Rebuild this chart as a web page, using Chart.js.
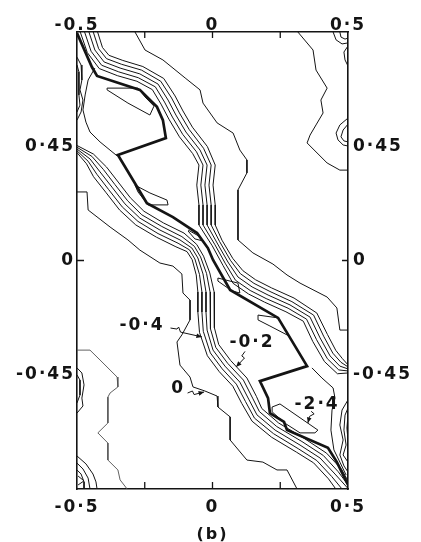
<!DOCTYPE html>
<html>
<head>
<meta charset="utf-8">
<script src="https://cdn.jsdelivr.net/npm/chart.js@4.4.1/dist/chart.umd.min.js"></script>
<style>
  html, body { margin: 0; padding: 0; background: #ffffff; }
  canvas { display: block; }
</style>
</head>
<body>
<canvas id="c" width="421" height="542"></canvas>
<script>
// Energy contour map of the cell, with the minimum-energy path (thick line).

// Axis ticks and labels
const xTickValues = [-0.5, 0, 0.5];
const topTickLabels = ['-0.5', '0', '0·5'];
const bottomTickLabels = ['-0·5', '0', '0·5'];
const yTickValues = [-0.45, 0, 0.45];
const yTickLabels = ['-0·45', '0', '0·45'];
const minorTickX = [-0.25, 0, 0.25];
const minorTickY = [0];

// Minimum-energy path through the valley
const minPath = [[-0.5,0.896],[-0.445,0.762],[-0.426,0.727],[-0.268,0.672],[-0.205,0.605],[-0.183,0.553],[-0.172,0.482],[-0.349,0.416],[-0.242,0.226],[-0.146,0.171],[-0.057,0.108],[-0.017,0.049],[0.002,0.002],[0.065,-0.116],[0.242,-0.226],[0.349,-0.416],[0.175,-0.475],[0.205,-0.542],[0.212,-0.601],[0.264,-0.636],[0.275,-0.668],[0.426,-0.738],[0.459,-0.794],[0.5,-0.884]];

// Dense contour band on the upper/right flank of the valley (inner to outer)
const rightBand = [
  [[-0.488,0.9],[-0.462,0.819],[-0.418,0.756],[-0.351,0.728],[-0.279,0.706],[-0.222,0.673],[-0.190,0.616],[-0.161,0.557],[-0.122,0.487],[-0.073,0.421],[-0.050,0.376],[-0.058,0.297],[-0.050,0.219],[-0.050,0.140],[-0.001,0.058],[0.039,-0.020],[0.076,-0.090],[0.133,-0.132],[0.192,-0.164],[0.271,-0.202],[0.335,-0.239],[0.370,-0.319],[0.413,-0.398],[0.461,-0.446],[0.5,-0.443]],
  [[-0.472,0.9],[-0.448,0.824],[-0.409,0.769],[-0.346,0.743],[-0.274,0.720],[-0.211,0.684],[-0.177,0.624],[-0.148,0.565],[-0.110,0.497],[-0.059,0.428],[-0.035,0.376],[-0.043,0.297],[-0.035,0.219],[-0.035,0.140],[0.008,0.064],[0.048,-0.013],[0.085,-0.078],[0.139,-0.118],[0.198,-0.150],[0.279,-0.188],[0.347,-0.231],[0.384,-0.312],[0.424,-0.387],[0.466,-0.431],[0.5,-0.435]],
  [[-0.456,0.9],[-0.434,0.829],[-0.400,0.782],[-0.341,0.758],[-0.268,0.735],[-0.201,0.695],[-0.164,0.632],[-0.135,0.573],[-0.098,0.506],[-0.046,0.435],[-0.020,0.376],[-0.028,0.297],[-0.020,0.219],[-0.020,0.140],[0.017,0.069],[0.057,-0.006],[0.094,-0.065],[0.146,-0.104],[0.205,-0.136],[0.286,-0.175],[0.360,-0.223],[0.397,-0.305],[0.434,-0.376],[0.470,-0.416],[0.5,-0.427]],
  [[-0.440,0.9],[-0.420,0.834],[-0.391,0.795],[-0.336,0.773],[-0.262,0.750],[-0.191,0.706],[-0.151,0.640],[-0.122,0.581],[-0.086,0.516],[-0.033,0.442],[-0.005,0.376],[-0.013,0.297],[-0.005,0.219],[-0.005,0.140],[0.026,0.075],[0.066,0.001],[0.103,-0.052],[0.153,-0.090],[0.212,-0.122],[0.293,-0.162],[0.373,-0.215],[0.410,-0.298],[0.444,-0.365],[0.474,-0.401],[0.5,-0.419]],
  [[-0.424,0.9],[-0.406,0.839],[-0.382,0.808],[-0.331,0.788],[-0.257,0.764],[-0.180,0.717],[-0.138,0.648],[-0.109,0.589],[-0.074,0.525],[-0.019,0.449],[0.010,0.376],[0.002,0.297],[0.010,0.219],[0.010,0.140],[0.035,0.080],[0.075,0.008],[0.112,-0.040],[0.159,-0.076],[0.218,-0.108],[0.301,-0.148],[0.385,-0.207],[0.424,-0.291],[0.455,-0.354],[0.479,-0.386],[0.5,-0.411]]
];

// Dense contour band on the lower/left flank of the valley (inner to outer)
const leftBand = [
  [[-0.5,0.453],[-0.439,0.419],[-0.391,0.368],[-0.348,0.309],[-0.303,0.247],[-0.253,0.194],[-0.181,0.148],[-0.105,0.108],[-0.058,0.063],[-0.033,0.017],[-0.010,-0.049],[0.006,-0.124],[0.006,-0.203],[0.008,-0.265],[0.023,-0.331],[0.067,-0.394],[0.127,-0.463],[0.162,-0.535],[0.182,-0.583],[0.244,-0.640],[0.336,-0.699],[0.421,-0.759],[0.476,-0.822],[0.5,-0.868]],
  [[-0.5,0.446],[-0.445,0.410],[-0.403,0.359],[-0.360,0.299],[-0.313,0.235],[-0.261,0.180],[-0.187,0.134],[-0.113,0.094],[-0.067,0.056],[-0.044,0.014],[-0.022,-0.051],[-0.009,-0.124],[-0.009,-0.203],[-0.006,-0.269],[0.012,-0.342],[0.056,-0.405],[0.114,-0.471],[0.148,-0.542],[0.173,-0.595],[0.237,-0.654],[0.330,-0.713],[0.409,-0.768],[0.464,-0.832],[0.5,-0.884]],
  [[-0.5,0.439],[-0.452,0.400],[-0.415,0.349],[-0.371,0.289],[-0.323,0.223],[-0.268,0.167],[-0.194,0.120],[-0.120,0.081],[-0.076,0.049],[-0.054,0.010],[-0.035,-0.053],[-0.024,-0.124],[-0.024,-0.203],[-0.020,-0.274],[0.002,-0.353],[0.046,-0.416],[0.101,-0.479],[0.135,-0.549],[0.164,-0.608],[0.231,-0.668],[0.323,-0.727],[0.397,-0.778],[0.452,-0.841],[0.5,-0.898]],
  [[-0.5,0.432],[-0.459,0.391],[-0.427,0.340],[-0.383,0.279],[-0.333,0.211],[-0.275,0.154],[-0.201,0.106],[-0.127,0.068],[-0.085,0.042],[-0.065,0.006],[-0.048,-0.055],[-0.039,-0.124],[-0.039,-0.203],[-0.034,-0.279],[-0.008,-0.364],[0.036,-0.427],[0.088,-0.487],[0.122,-0.556],[0.155,-0.621],[0.225,-0.682],[0.316,-0.741],[0.385,-0.788],[0.440,-0.851],[0.478,-0.9]],
  [[-0.5,0.425],[-0.465,0.381],[-0.439,0.330],[-0.394,0.269],[-0.343,0.199],[-0.283,0.140],[-0.207,0.092],[-0.135,0.054],[-0.094,0.035],[-0.075,0.003],[-0.060,-0.057],[-0.054,-0.124],[-0.054,-0.203],[-0.048,-0.283],[-0.019,-0.375],[0.025,-0.438],[0.075,-0.495],[0.108,-0.563],[0.146,-0.633],[0.218,-0.696],[0.310,-0.755],[0.373,-0.797],[0.428,-0.860],[0.455,-0.9]]
];

// Outer (zero-level) contours
const zeroUpper = [[-0.286,0.9],[-0.249,0.829],[-0.183,0.790],[-0.101,0.719],[-0.046,0.672],[-0.035,0.620],[0.017,0.542],[0.076,0.502],[0.101,0.435],[0.127,0.396],[0.127,0.345],[0.094,0.278],[0.094,0.081],[0.149,0.030],[0.223,-0.014],[0.275,-0.057],[0.323,-0.089],[0.423,-0.144],[0.459,-0.187],[0.470,-0.274],[0.5,-0.274]];
const zeroLower = [[-0.5,0.270],[-0.463,0.270],[-0.459,0.199],[-0.378,0.132],[-0.312,0.081],[-0.268,0.041],[-0.194,-0.010],[-0.146,-0.022],[-0.113,-0.053],[-0.109,-0.128],[-0.083,-0.156],[-0.083,-0.234],[-0.113,-0.293],[-0.131,-0.321],[-0.120,-0.412],[-0.083,-0.459],[-0.072,-0.498],[-0.028,-0.514],[0.017,-0.534],[0.020,-0.577],[0.065,-0.616],[0.065,-0.707],[0.127,-0.786],[0.186,-0.794],[0.238,-0.825],[0.275,-0.825],[0.312,-0.9]];
const zeroCorner = [[-0.5,-0.353],[-0.452,-0.353],[-0.415,-0.392],[-0.352,-0.459],[-0.349,-0.498],[-0.378,-0.522],[-0.386,-0.538],[-0.386,-0.640],[-0.423,-0.679],[-0.386,-0.719],[-0.386,-0.786],[-0.349,-0.825],[-0.341,-0.864],[-0.315,-0.9]];
const farRight = [[0.315,0.9],[0.371,0.829],[0.382,0.750],[0.423,0.679],[0.400,0.632],[0.408,0.581],[0.382,0.534],[0.360,0.494],[0.349,0.463],[0.423,0.384],[0.470,0.356],[0.5,0.356]];
const leftPocketEdge = [[-0.434,0.758],[-0.459,0.711],[-0.470,0.652],[-0.478,0.593],[-0.467,0.545],[-0.452,0.506],[-0.415,0.467],[-0.352,0.412]];
const rightInner = [[0.367,-0.423],[0.404,-0.463],[0.445,-0.502],[0.452,-0.542],[0.441,-0.589],[0.437,-0.668],[0.448,-0.746],[0.470,-0.794],[0.493,-0.845]];

// Short contours that meet the cell edges
const edgeContours = [
  [[-0.5,0.801],[-0.485,0.770],[-0.482,0.711],[-0.489,0.672],[-0.478,0.632],[-0.485,0.585],[-0.5,0.553]],
  [[-0.5,0.770],[-0.493,0.743],[-0.493,0.652],[-0.489,0.612],[-0.5,0.585]],
  [[0.445,0.9],[0.456,0.869],[0.478,0.853],[0.5,0.857]],
  [[0.470,0.9],[0.474,0.880],[0.489,0.872],[0.5,0.876]],
  [[0.5,0.845],[0.485,0.821],[0.489,0.790],[0.5,0.766]],
  [[0.5,0.561],[0.470,0.534],[0.456,0.502],[0.463,0.475],[0.482,0.455],[0.5,0.451]],
  [[0.5,0.537],[0.482,0.514],[0.474,0.487],[0.485,0.471],[0.5,0.467]],
  [[0.5,-0.549],[0.478,-0.589],[0.470,-0.648],[0.482,-0.707],[0.470,-0.766],[0.485,-0.809],[0.5,-0.833]],
  [[0.5,-0.581],[0.489,-0.609],[0.485,-0.668],[0.493,-0.727],[0.482,-0.766],[0.5,-0.794]],
  [[0.5,-0.609],[0.496,-0.660],[0.5,-0.707]],
  [[-0.5,-0.423],[-0.482,-0.443],[-0.474,-0.490],[-0.482,-0.542],[-0.478,-0.573],[-0.5,-0.601]],
  [[-0.5,-0.451],[-0.489,-0.471],[-0.489,-0.530],[-0.5,-0.561]],
  [[-0.5,-0.770],[-0.467,-0.801],[-0.441,-0.841],[-0.430,-0.872],[-0.426,-0.9]],
  [[-0.5,-0.798],[-0.478,-0.821],[-0.459,-0.857],[-0.452,-0.9]],
  [[-0.5,-0.825],[-0.485,-0.841],[-0.474,-0.872],[-0.474,-0.9]],
  [[-0.496,-0.849],[-0.474,-0.868],[-0.496,-0.884]]
];

// Closed low-energy pockets inside the valley
const pockets = [
  [[-0.389,0.679],[-0.275,0.679],[-0.249,0.644],[-0.216,0.608],[-0.231,0.573],[-0.312,0.620],[-0.389,0.672],[-0.389,0.679]],
  [[-0.286,0.297],[-0.231,0.266],[-0.168,0.238],[-0.164,0.219],[-0.238,0.219],[-0.275,0.270],[-0.286,0.297]],
  [[0.220,-0.577],[0.249,-0.565],[0.389,-0.668],[0.378,-0.679],[0.323,-0.679],[0.266,-0.640],[0.220,-0.596],[0.220,-0.577]],
  [[0.020,-0.069],[0.094,-0.089],[0.101,-0.128],[0.072,-0.120],[0.020,-0.081],[0.020,-0.069]],
  [[0.168,-0.215],[0.242,-0.226],[0.282,-0.297],[0.212,-0.258],[0.168,-0.234],[0.168,-0.215]],
  [[-0.090,0.120],[-0.050,0.096],[-0.035,0.077],[-0.065,0.085],[-0.090,0.116]]
];

// Contour level labels with their pointer arrows
const levelLabels = ['-0·4', '-0·2', '0', '-2·4'];
const levelLabelX = [-0.260, 0.146, -0.127, 0.386];
const levelLabelY = [-0.258, -0.325, -0.506, -0.567];
const levelArrows = [
  [[-0.155,-0.266],[-0.131,-0.270],[-0.125,-0.262],[-0.118,-0.282],[-0.039,-0.301]],
  [[0.120,-0.358],[0.108,-0.376],[0.118,-0.384],[0.087,-0.419]],
  [[-0.092,-0.522],[-0.074,-0.514],[-0.068,-0.528],[-0.031,-0.518]],
  [[0.364,-0.594],[0.375,-0.604],[0.358,-0.614],[0.352,-0.640]]
];

const ink = '#141414';
const labelFont = { family: 'DejaVu Sans', weight: 'bold', size: 17 };
const topLabelFont = { family: 'DejaVu Sans', weight: 'bold', size: 17, lineHeight: 0.8 };

function contour(points, width, color) {
  return {
    data: points.map(([x, y]) => ({ x, y })),
    showLine: true,
    pointRadius: 0,
    pointHoverRadius: 0,
    borderColor: color || ink,
    borderWidth: width,
    tension: 0,
    fill: false
  };
}

const datasets = [];
rightBand.forEach(l => datasets.push(contour(l, 1)));
leftBand.forEach(l => datasets.push(contour(l, 1)));
[zeroUpper, zeroLower, farRight, leftPocketEdge, rightInner].forEach(l => datasets.push(contour(l, 1)));
datasets.push(contour(zeroCorner, 0.9, '#505050'));
edgeContours.forEach(l => datasets.push(contour(l, 1)));
pockets.forEach(l => datasets.push(contour(l, 1)));
datasets.push(contour(minPath, 2.7));

// Wider glyph spacing for all text on the canvas
const spacedText = {
  id: 'spacedText',
  beforeDraw(chart) { chart.ctx.letterSpacing = '2px'; },
  afterDraw(chart) { chart.ctx.letterSpacing = '0px'; }
};

// Inward tick marks, level labels and arrows
const annotate = {
  id: 'annotate',
  afterDatasetsDraw(chart) {
    const { ctx, chartArea: a } = chart;
    const xs = chart.scales.x, ys = chart.scales.y;
    ctx.save();
    ctx.strokeStyle = ink;
    ctx.fillStyle = ink;
    ctx.lineWidth = 1.3;
    ctx.beginPath();
    minorTickX.forEach(v => {
      const px = xs.getPixelForValue(v);
      ctx.moveTo(px, a.top); ctx.lineTo(px, a.top + 6);
      ctx.moveTo(px, a.bottom); ctx.lineTo(px, a.bottom - 7);
    });
    minorTickY.forEach(v => {
      const py = ys.getPixelForValue(v);
      ctx.moveTo(a.left, py); ctx.lineTo(a.left + 7, py);
      ctx.moveTo(a.right, py); ctx.lineTo(a.right - 6, py);
    });
    ctx.stroke();

    ctx.font = 'bold 17px "DejaVu Sans"';
    ctx.textAlign = 'center';
    ctx.textBaseline = 'middle';
    levelLabels.forEach((t, i) => {
      ctx.fillText(t, xs.getPixelForValue(levelLabelX[i]), ys.getPixelForValue(levelLabelY[i]));
    });

    ctx.lineWidth = 1;
    levelArrows.forEach(pts => {
      const p = pts.map(([x, y]) => [xs.getPixelForValue(x), ys.getPixelForValue(y)]);
      ctx.beginPath();
      p.forEach(([x, y], i) => i ? ctx.lineTo(x, y) : ctx.moveTo(x, y));
      ctx.stroke();
      const [x1, y1] = p[p.length - 2], [x2, y2] = p[p.length - 1];
      const ang = Math.atan2(y2 - y1, x2 - x1);
      ctx.beginPath();
      ctx.moveTo(x2, y2);
      ctx.lineTo(x2 - 6 * Math.cos(ang - 0.4), y2 - 6 * Math.sin(ang - 0.4));
      ctx.lineTo(x2 - 6 * Math.cos(ang + 0.4), y2 - 6 * Math.sin(ang + 0.4));
      ctx.closePath();
      ctx.fill();
    });
    ctx.restore();
  }
};

function axisCommon(extra) {
  return Object.assign({
    type: 'linear',
    grid: { display: true, drawOnChartArea: false, drawTicks: false },
    border: { display: true, color: ink, width: 1.6 }
  }, extra);
}

new Chart(document.getElementById('c'), {
  type: 'scatter',
  data: { datasets },
  options: {
    responsive: false,
    animation: false,
    events: [],
    layout: { padding: 0 },
    plugins: { legend: { display: false }, tooltip: { enabled: false } },
    scales: {
      x: axisCommon({
        position: 'bottom', min: -0.5, max: 0.5,
        afterBuildTicks: s => { s.ticks = xTickValues.map(v => ({ value: v })); },
        afterFit: s => { s.height = 53; },
        ticks: { autoSkip: false, maxRotation: 0, padding: 8, color: ink, font: labelFont,
                 callback: (v, i) => bottomTickLabels[i] },
        title: { display: true, text: '(b)', color: ink,
                 font: { family: 'DejaVu Sans', weight: 'bold', size: 16, lineHeight: 1 },
                 padding: { top: 0, bottom: -1 } }
      }),
      xTop: axisCommon({
        position: 'top', min: -0.5, max: 0.5,
        afterBuildTicks: s => { s.ticks = xTickValues.map(v => ({ value: v })); },
        afterFit: s => { s.height = 32; },
        ticks: { autoSkip: false, maxRotation: 0, padding: 0, color: ink, font: topLabelFont,
                 callback: (v, i) => topTickLabels[i] }
      }),
      y: axisCommon({
        position: 'left', min: -0.9, max: 0.9,
        afterBuildTicks: s => { s.ticks = yTickValues.map(v => ({ value: v })); },
        afterFit: s => { s.width = 77; },
        ticks: { autoSkip: false, padding: 2, color: ink, font: labelFont,
                 callback: (v, i) => yTickLabels[i] }
      }),
      yRight: axisCommon({
        position: 'right', min: -0.9, max: 0.9,
        afterBuildTicks: s => { s.ticks = yTickValues.map(v => ({ value: v })); },
        afterFit: s => { s.width = 73; },
        ticks: { autoSkip: false, padding: 5, color: ink, font: labelFont,
                 callback: (v, i) => yTickLabels[i] }
      })
    }
  },
  plugins: [spacedText, annotate]
});
</script>
</body>
</html>
